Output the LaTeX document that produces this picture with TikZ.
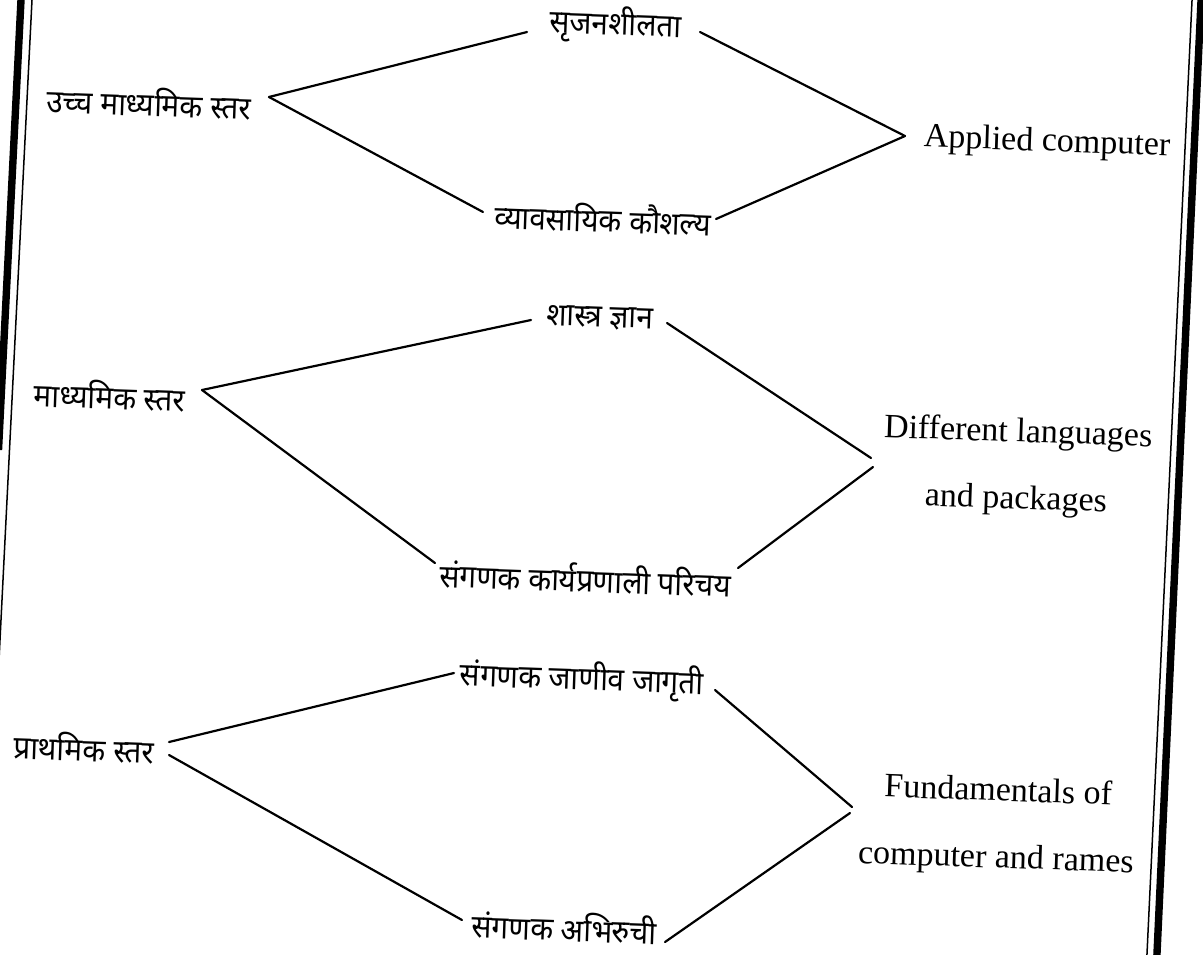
\documentclass[tikz,border=0pt]{standalone}
\usepackage{fontspec}
\setmainfont{Liberation Serif}
\newfontfamily\deva[Script=Devanagari,FakeStretch=0.93]{Noto Sans}
\begin{document}
\begin{tikzpicture}[x=0.5pt,y=-0.5pt,
  dv/.style={font=\deva\fontsize{16}{18}\selectfont, inner sep=0pt, rotate=-2},
  en/.style={font=\fontsize{17}{33.5}\selectfont, inner sep=0pt, rotate=-2, align=center},
  conn/.style={line width=1.1pt, line cap=round},
  thinborder/.style={line width=0.75pt},
  thickborder/.style={line width=3.7pt}]
\useasboundingbox (0,0) rectangle (1203,954);
\clip (0,0) rectangle (1203,954);
\fill[white] (0,0) rectangle (1203,954);
% page borders of the scan
\draw[thickborder] (21.5,-10) -- (-1.5,450);
\draw[thinborder] (32.5,-10) -- (-1,660);
\draw[thinborder] (1192.5,-10) -- (1146.5,964);
\draw[thickborder] (1201.5,-10) -- (1156.5,964);
% top group
\node[dv] (l1) at (149,102) {उच्च माध्यमिक स्तर};
\node[dv] (a1) at (615.5,25) {सृजनशीलता};
\node[dv] (a2) at (603,218) {व्यावसायिक कौशल्य};
\node[en] (ra) at (1047,143) {Applied computer};
\coordinate (v1) at ([shift={(120,-5)}]l1.center);
\coordinate (va) at ([shift={(-142,-7)}]ra.center);
\draw[conn] (v1) -- ([shift={(-120,-6)}]a2.center);
\draw[conn] (v1) -- ([shift={(-88.5,7)}]a1.center);
\draw[conn] ([shift={(84.5,7)}]a1.center) -- (va);
\draw[conn] ([shift={(113,1)}]a2.center) -- (va);
% middle group
\node[dv] (l2) at (109.5,395) {माध्यमिक स्तर};
\node[dv] (b1) at (600,318) {शास्त्र ज्ञान};
\node[dv] (b2) at (585.5,578) {संगणक कार्यप्रणाली परिचय};
\node[en] (rb) at (1017,467) {Different languages\\and packages};
\coordinate (v2) at ([shift={(92.5,-5)}]l2.center);
\coordinate (vb1) at ([shift={(-146,-9)}]rb.center);
\coordinate (vb2) at ([shift={(-144,0)}]rb.center);
\draw[conn] (v2) -- ([shift={(-69,2)}]b1.center);
\draw[conn] (v2) -- ([shift={(-150.5,-15)}]b2.center);
\draw[conn] ([shift={(67,5)}]b1.center) -- (vb1);
\draw[conn] ([shift={(152.5,-10)}]b2.center) -- (vb2);
% bottom group
\node[dv] (l3) at (84,747) {प्राथमिक स्तर};
\node[dv] (c1) at (582,680) {संगणक जाणीव जागृती};
\node[dv] (c2) at (564.5,927) {संगणक अभिरुची};
\node[en] (rc) at (997,826) {Fundamentals of\\computer and rames};
\coordinate (vc1) at ([shift={(85,-5)}]l3.center);
\coordinate (vc2) at ([shift={(85,8)}]l3.center);
\coordinate (vd1) at ([shift={(-145,-19)}]rc.center);
\coordinate (vd2) at ([shift={(-147,-13)}]rc.center);
\draw[conn] (vc1) -- ([shift={(-128,-7)}]c1.center);
\draw[conn] (vc2) -- ([shift={(-102.5,-7)}]c2.center);
\draw[conn] ([shift={(133,10)}]c1.center) -- (vd1);
\draw[conn] ([shift={(100.5,15)}]c2.center) -- (vd2);
\end{tikzpicture}
\end{document}
